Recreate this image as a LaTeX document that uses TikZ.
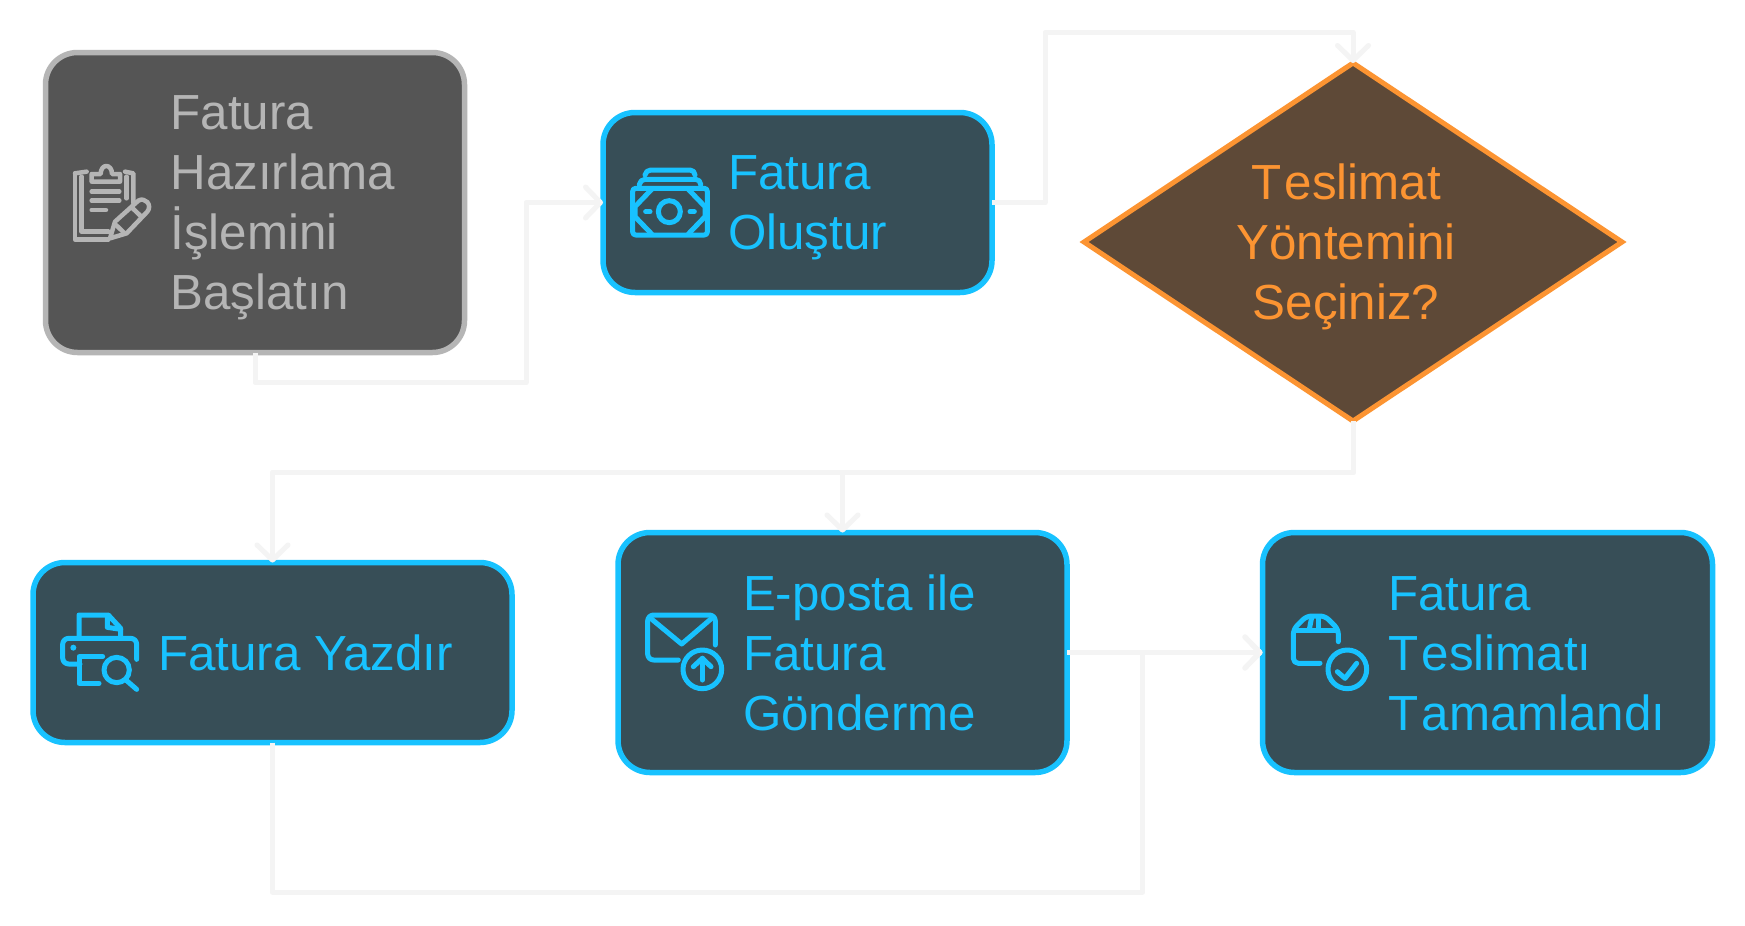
\documentclass[tikz,border=0pt]{standalone}
\usepackage{fontspec}
\setmainfont{Liberation Sans}
\usetikzlibrary{shapes.geometric,arrows.meta}
\definecolor{boxfill}{HTML}{374E57}
\definecolor{boxline}{HTML}{18C2FF}
\definecolor{startfill}{HTML}{555555}
\definecolor{startline}{HTML}{B5B5B5}
\definecolor{decfill}{HTML}{5E4937}
\definecolor{decline}{HTML}{FC9432}
\definecolor{wire}{HTML}{F4F4F4}
\newcommand{\firstline}{\rule{0pt}{40pt}}
\newcommand{\capT}{T\kern3.5pt}
\tikzset{
  x=1pt, y=-1pt,
  card/.style={rectangle, rounded corners=32pt, draw=boxline, fill=boxfill, line width=5.5pt, outer sep=0pt, inner sep=0pt},
  startcard/.style={card, draw=startline, fill=startfill},
  decision/.style={diamond, draw=decline, fill=decfill, line width=5pt, outer sep=0pt, inner sep=0pt, minimum width=538pt, minimum height=358pt, line join=miter},
  caption/.style={text=boxline, font=\fontsize{49.3}{60}\selectfont, align=left, anchor=north west, inner sep=0pt, outer sep=0pt},
  link/.style={draw=wire, line width=5pt, line join=round},
  arrowlink/.style={link, -{Straight Barb[length=15pt,width=31pt,round]}},
  glyph/.style={line width=5pt, line cap=round, line join=round},
  zoomed/.style={shift={(#1)}, scale=1/3},
}
\begin{document}
\begin{tikzpicture}
\useasboundingbox (0,0) rectangle (1745,926);
\fill[white] (0,0) rectangle (1745,926);

% Process boxes and the decision
\node[startcard, minimum width=419pt, minimum height=300pt] (start) at (255,202.5) {};
\node[card, minimum width=389pt, minimum height=180pt] (create) at (797.5,202.5) {};
\node[decision] (choose) at (1353,242) {};
\node[card, minimum width=479pt, minimum height=180pt] (print) at (272.5,652.5) {};
\node[card, minimum width=449pt, minimum height=240pt] (mail) at (842.5,652.5) {};
\node[card, minimum width=450pt, minimum height=240pt] (done) at (1487.5,652.5) {};

% Connectors
\draw[arrowlink] (start.south) -- ++(0,30) -- ++(271,0) |- (create.west);
\draw[arrowlink] (create.east) -- ++(53,0) -- ++(0,-170) -| (choose.north);
\draw[arrowlink] (choose.south) -- ++(0,51) -| (print.north);
\draw[arrowlink] (choose.south) -- ++(0,51) -| (mail.north);
\draw[arrowlink] (mail.east) -- (done.west);
\draw[arrowlink] (print.south) -- ++(0,149.5) -- ++(870,0) |- (done.west);

% Box captions
\node[caption, text=startline] (startText) at (170.5,89.5) {\firstline Fatura\\Hazırlama\\İşlemini\\Başlatın};
\node[caption] (createText) at (728,149.5) {\firstline Fatura\\Oluştur};
\node[caption, text=decline, align=center, anchor=north] (chooseText) at (1346,159.5) {\firstline \capT eslimat\\Yöntemini\\Seçiniz?};
\node[caption] (printText) at (158,630) {\firstline Fatura Yazdır};
\node[caption] (mailText) at (743,570) {\firstline E-posta ile\\Fatura\\Gönderme};
\node[caption] (doneText) at (1388,570) {\firstline Fatura\\\capT eslimatı\\\capT amamlandı};

% Clipboard and pencil icon
\begin{scope}[zoomed={30,30}, glyph, draw=startline, line width=4.5pt]
  \draw (135,430) -- (135,628) -- (235,628);
  \draw (135,430) -- (170,425);
  \draw (155,440) -- (155,605) -- (235,605);
  \draw (310,520) -- (310,430) -- (285,425);
  \draw (290,440) -- (290,505);
  \draw (185,455) -- (185,432) -- (212,432) .. controls (212,400) and (246,400) .. (246,432) -- (270,432) -- (270,455) -- cycle;
  \draw (185,485) -- (268,485);
  \draw (185,512) -- (268,512);
  \draw (185,540) -- (228,540);
  \draw (240,625) -- (255,575) -- (325,512) .. controls (345,500) and (368,525) .. (352,545) -- (290,610) -- cycle;
  \draw (258,585) -- (282,608);
  \draw (305,532) -- (332,558);
\end{scope}

% Banknote stack icon
\begin{scope}[zoomed={590,100}, glyph, draw=boxline]
  \draw[rounded corners=3pt] (128,265) rectangle (352,405);
  \draw[rounded corners=5pt] (148,255) -- (150,238) -- (332,238) -- (332,255);
  \draw[rounded corners=5pt] (165,225) -- (167,210) -- (315,210) -- (315,225);
  \draw (185,268) -- (135,320) -- (135,350) -- (185,402);
  \draw (295,268) -- (345,320) -- (345,350) -- (295,402);
  \draw (238,335) circle[radius=33];
  \draw (167,335) -- (180,335);
  \draw (300,335) -- (313,335);
\end{scope}

% Printer and magnifier icon
\begin{scope}[zoomed={30,550}, glyph, draw=boxline]
  \draw (147,258) -- (147,195) -- (235,195) -- (272,235) -- (272,258);
  \draw (232,198) -- (232,232) -- (272,238);
  \draw[rounded corners=6pt] (150,342) -- (98,342) -- (98,265) -- (320,265) -- (320,328);
  \fill[boxline] (130,293) circle[radius=9];
  \draw (218,320) -- (147,320) -- (147,400) -- (207,400);
  \draw (260,360) circle[radius=38];
  \draw (290,392) -- (320,418);
\end{scope}

% Envelope with upload badge icon
\begin{scope}[zoomed={610,590}, glyph, draw=boxline]
  \draw[rounded corners=6pt] (205,210) -- (113,210) -- (113,75) -- (316,75) -- (316,165);
  \draw (122,85) -- (215,162) -- (305,85);
  \draw (277,238) circle[radius=58];
  \draw (277,270) -- (277,205);
  \draw (250,230) -- (277,205) -- (303,230);
\end{scope}

% Parcel with check badge icon
\begin{scope}[zoomed={1250,590}, glyph, draw=boxline]
  \draw[rounded corners=5pt] (210,220) -- (130,220) -- (130,118) -- (170,78) -- (225,78) -- (265,118) -- (265,155);
  \draw (135,120) -- (262,120);
  \draw (185,82) -- (178,118);
  \draw (205,82) -- (205,118);
  \draw (292,238) circle[radius=58];
  \draw (262,245) -- (285,265) -- (320,220);
\end{scope}
\end{tikzpicture}
\end{document}
